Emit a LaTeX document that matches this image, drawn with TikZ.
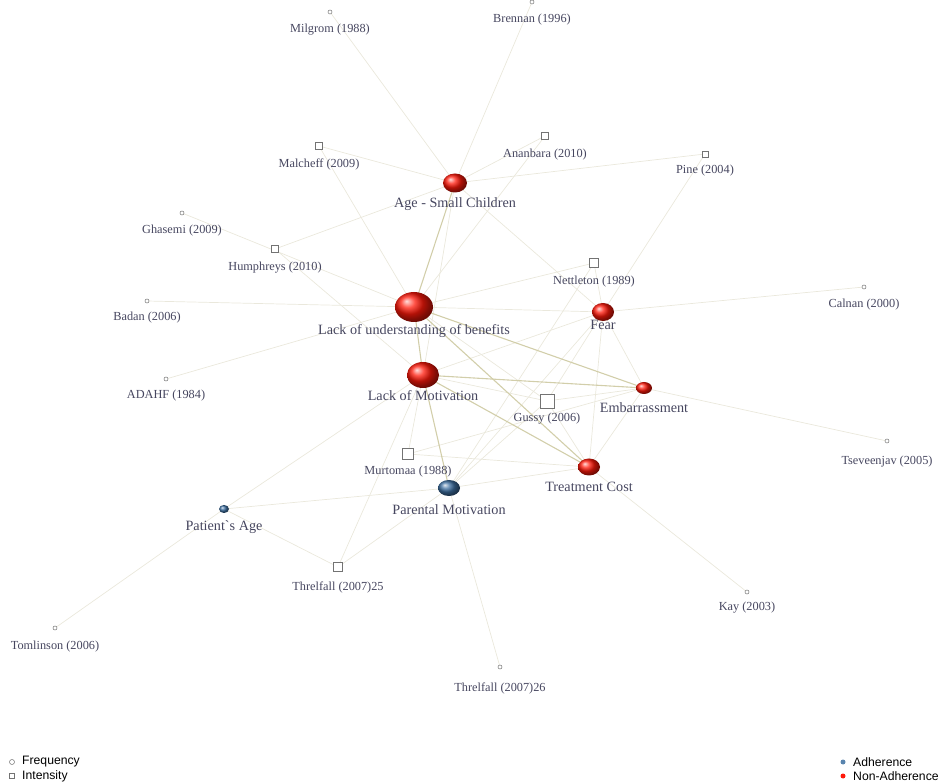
\documentclass[tikz,border=0pt]{standalone}
\usepackage{fontspec}
\setmainfont{Liberation Serif}
\setsansfont{Liberation Sans}
\usetikzlibrary{shapes.geometric,backgrounds}

\definecolor{txtcol}{RGB}{70,70,95}
\definecolor{lnkcol}{RGB}{234,232,220}
\definecolor{strongcol}{RGB}{210,206,170}
\definecolor{markcol}{RGB}{115,115,115}
\definecolor{adhcol}{RGB}{60,110,160}
\definecolor{nonadhcol}{RGB}{255,25,10}

\tikzset{
  fact/.style={ellipse, inner sep=0pt, ball color=nonadhcol},
  adh/.style={ellipse, inner sep=0pt, ball color=adhcol},
  freq/.style={circle, draw=markcol, fill=white, line width=0.5pt, inner sep=0pt, minimum size=4pt},
  intens/.style={rectangle, draw=markcol, fill=white, line width=0.6pt, inner sep=0pt},
  flbl/.style={text=txtcol, font=\fontsize{14.2}{15}\selectfont, inner sep=0pt},
  slbl/.style={text=txtcol, font=\fontsize{12.3}{13}\selectfont, inner sep=0pt},
  lnk/.style={draw=lnkcol, line width=0.7pt},
  strong/.style={draw=strongcol, line width=1.1pt},
  legtxt/.style={font=\sffamily\fontsize{12.2}{13}\selectfont, anchor=west, inner sep=0pt}
}

\begin{document}
\begin{tikzpicture}[x=1pt,y=-1pt]
    \useasboundingbox (0,0) rectangle (938,783);

    % factors
    \node[fact, minimum width=24pt, minimum height=19pt] (age) at (455,183) {};
    \node[fact, minimum width=38pt, minimum height=30pt] (lou) at (414,307) {};
    \node[fact, minimum width=32pt, minimum height=26pt] (lom) at (423,375) {};
    \node[fact, minimum width=22pt, minimum height=18pt] (fear) at (603,312) {};
    \node[fact, minimum width=16pt, minimum height=12pt] (emb) at (644,388) {};
    \node[fact, minimum width=22pt, minimum height=17pt] (cost) at (589,467) {};
    \node[adh, minimum width=22pt, minimum height=16pt] (parent) at (449,488) {};
    \node[adh, minimum width=10pt, minimum height=8pt] (patage) at (224,509) {};

    % studies: frequency
    \node[freq] (milgrom) at (330,12) {};
    \node[freq] (brennan) at (532,2) {};
    \node[freq] (ghasemi) at (182,213) {};
    \node[freq] (badan) at (147,301) {};
    \node[freq] (adahf) at (166,379) {};
    \node[freq] (calnan) at (864,287) {};
    \node[freq] (tsev) at (887,441) {};
    \node[freq] (kay) at (747,592) {};
    \node[freq] (tomlin) at (55,628) {};
    \node[freq] (threlb) at (500,667) {};

    % studies: intensity
    \node[intens, minimum size=7pt] (malcheff) at (319,146) {};
    \node[intens, minimum size=7pt] (ananbara) at (545,136) {};
    \node[intens, minimum size=6pt] (pine) at (705,154) {};
    \node[intens, minimum size=7pt] (humphreys) at (275,249) {};
    \node[intens, minimum size=9pt] (nettleton) at (594,263) {};
    \node[intens, minimum size=14pt] (gussy) at (547,401) {};
    \node[intens, minimum size=11pt] (murtomaa) at (408,454) {};
    \node[intens, minimum size=9pt] (threla) at (338,567) {};

    % labels
    \node[flbl] (age-l) at (455,204) {Age - Small Children};
    \node[flbl] (lou-l) at (414,331) {Lack of understanding of benefits};
    \node[flbl] (lom-l) at (423,396) {Lack of Motivation};
    \node[flbl] (fear-l) at (603,325) {Fear};
    \node[flbl] (emb-l) at (644,408) {Embarrassment};
    \node[flbl] (cost-l) at (589,487) {Treatment Cost};
    \node[flbl] (parent-l) at (449,510) {Parental Motivation};
    \node[flbl] (patage-l) at (224,527) {Patient\textasciigrave s Age};

    \node[slbl] (milgrom-l) at (330,30) {Milgrom (1988)};
    \node[slbl] (brennan-l) at (532,20) {Brennan (1996)};
    \node[slbl] (ghasemi-l) at (182,231) {Ghasemi (2009)};
    \node[slbl] (badan-l) at (147,318) {Badan (2006)};
    \node[slbl] (adahf-l) at (166,396) {ADAHF (1984)};
    \node[slbl] (calnan-l) at (864,305) {Calnan (2000)};
    \node[slbl] (tsev-l) at (887,462) {Tseveenjav (2005)};
    \node[slbl] (kay-l) at (747,608) {Kay (2003)};
    \node[slbl] (tomlin-l) at (55,647) {Tomlinson (2006)};
    \node[slbl] (threlb-l) at (500,688) {Threlfall (2007)26};
    \node[slbl] (malcheff-l) at (319,164) {Malcheff (2009)};
    \node[slbl] (ananbara-l) at (545,155) {Ananbara (2010)};
    \node[slbl] (pine-l) at (705,171) {Pine (2004)};
    \node[slbl] (humphreys-l) at (275,268) {Humphreys (2010)};
    \node[slbl] (nettleton-l) at (594,282) {Nettleton (1989)};
    \node[slbl] (gussy-l) at (547,419) {Gussy (2006)};
    \node[slbl] (murtomaa-l) at (408,472) {Murtomaa (1988)};
    \node[slbl] (threla-l) at (338,587) {Threlfall (2007)25};

    % links
    \begin{pgfonlayer}{background}
        \foreach \a/\b in {age/milgrom, age/brennan, age/malcheff, age/ananbara, age/pine,
                           age/humphreys, age/fear, age/lom,
                           lou/malcheff, lou/ananbara, lou/ghasemi, lou/badan, lou/adahf,
                           lou/nettleton, lou/fear, lou/gussy,
                           lom/humphreys, lom/patage, lom/threla, lom/murtomaa, lom/fear, lom/gussy,
                           fear/pine, fear/calnan, fear/nettleton, fear/emb, fear/cost, fear/parent, fear/gussy,
                           emb/tsev, emb/cost, emb/gussy, emb/murtomaa,
                           cost/kay, cost/murtomaa, cost/parent, cost/gussy,
                           parent/patage, parent/threla, parent/threlb, parent/nettleton, parent/gussy,
                           patage/tomlin, patage/threla}
            \draw[lnk] (\a.center) -- (\b.center);
        \foreach \a/\b in {age/lou, lou/lom, lou/emb, lou/cost, lom/emb, lom/cost, lom/parent}
            \draw[strong] (\a.center) -- (\b.center);
    \end{pgfonlayer}

    % legend
    \node[freq, minimum size=5pt] (leg-freq) at (12,762) {};
    \node[legtxt] (leg-freq-l) at (22,762) {Frequency};
    \node[intens, minimum size=5pt] (leg-int) at (12,776) {};
    \node[legtxt] (leg-int-l) at (22,776) {Intensity};
    \node[circle, fill=adhcol!85!white, inner sep=0pt, minimum size=5pt] (leg-adh) at (843,762) {};
    \node[legtxt] (leg-adh-l) at (853,762) {Adherence};
    \node[circle, fill=nonadhcol, inner sep=0pt, minimum size=5pt] (leg-non) at (843,776) {};
    \node[legtxt] (leg-non-l) at (853,776) {Non-Adherence};
\end{tikzpicture}
\end{document}
